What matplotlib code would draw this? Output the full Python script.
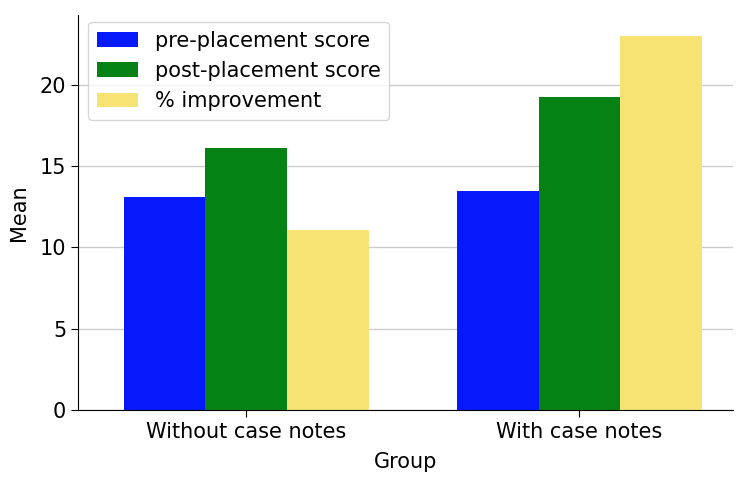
import numpy as np
import matplotlib
matplotlib.use("Agg")
from matplotlib import pyplot as plt

groups = ["Without case notes", "With case notes"]
series = ["pre-placement score", "post-placement score", "% improvement"]
pre_scores = [13.1, 13.5]
post_scores = [16.1, 19.25]
improvement = [11.1, 23.0]
colors = ["#0519fb", "#068214", "#f7e274"]

fig = plt.figure(figsize=(7.5, 5), dpi=100)
ax = fig.add_axes([0.104, 0.18, 0.873, 0.79])

x = np.arange(len(groups))
width = 0.245
for k, (vals, name) in enumerate(zip([pre_scores, post_scores, improvement], series)):
    ax.bar(x + (k - 1) * width, vals, width, color=colors[k], label=name, zorder=2)

ax.set_xticks(x)
ax.set_xticklabels(groups, fontsize=15)
ax.tick_params(axis="both", labelsize=15, length=5)
ax.set_xlim(-0.505, 1.46)
ax.set_ylim(0, 24.3)
ax.set_yticks([0, 5, 10, 15, 20])
ax.set_xlabel("Group", fontsize=15, labelpad=7)
ax.set_ylabel("Mean", fontsize=15, labelpad=8)
ax.yaxis.grid(True, color="#cccccc", linewidth=1, zorder=0)
ax.set_axisbelow(True)
ax.spines["top"].set_visible(False)
ax.spines["right"].set_visible(False)
ax.legend(loc="upper left", fontsize=15, bbox_to_anchor=(0.0, 1.008))

fig.savefig("out.png", dpi=100)
